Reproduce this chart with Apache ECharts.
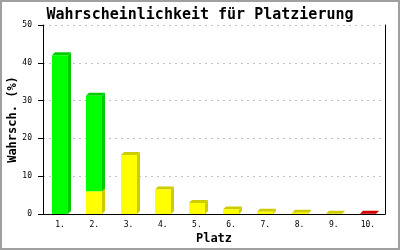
<!DOCTYPE html>
<html>
<head>
<meta charset="utf-8">
<script src="https://cdn.jsdelivr.net/npm/echarts@6/dist/echarts.min.js"></script>
<style>
html,body{margin:0;padding:0;background:#fff;}
#chart{width:400px;height:250px;}
</style>
</head>
<body>
<div id="chart"></div>
<script>
const categories = ['1.', '2.', '3.', '4.', '5.', '6.', '7.', '8.', '9.', '10.'];
const yellowValues = [0, 6.0, 15.6, 6.5, 2.9, 1.2, 0.6, 0.35, 0.05, 0];
const greenValues = [42.0, 25.3, 0, 0, 0, 0, 0, 0, 0, 0];
const redValues = [0, 0, 0, 0, 0, 0, 0, 0, 0, 0.05];
const yTicks = [0, 10, 20, 30, 40, 50];

const mono = 'DejaVu Sans Mono';

function stackItems(values, bases) {
  const out = [];
  values.forEach((v, i) => {
    if (v > 0) out.push([i, bases[i], bases[i] + v]);
  });
  return out;
}
const zeros = categories.map(() => 0);
const yellowData = stackItems(yellowValues, zeros);
const greenData = stackItems(greenValues, yellowValues);
const redData = stackItems(redValues, yellowValues.map((y, i) => y + greenValues[i]));

function makeRender(front, dark) {
  return function (params, api) {
    const i = api.value(0);
    const lo = api.coord([i, api.value(1)]);
    const hi = api.coord([i, api.value(2)]);
    const w = 16, d = 3;
    const x0 = Math.round(lo[0] - w / 2), x1 = x0 + w;
    const y0 = lo[1], y1 = hi[1];
    return {
      type: 'group',
      children: [
        { type: 'polygon', shape: { points: [[x1, y1], [x1 + d, y1 - d], [x1 + d, y0 - d], [x1, y0]] }, style: { fill: dark } },
        { type: 'polygon', shape: { points: [[x0, y1], [x0 + d, y1 - d], [x1 + d, y1 - d], [x1, y1]] }, style: { fill: dark } },
        { type: 'rect', shape: { x: x0, y: y1, width: w, height: y0 - y1 }, style: { fill: front } }
      ]
    };
  };
}

const chart = echarts.init(document.getElementById('chart'), null, { renderer: 'canvas' });
chart.setOption({
  animation: false,
  backgroundColor: '#fff',
  title: {
    text: 'Wahrscheinlichkeit für Platzierung',
    left: 'center', top: 3,
    textStyle: { fontFamily: mono, fontWeight: 'bold', fontSize: 15, color: '#000' }
  },
  graphic: [{
    type: 'rect', z: 100,
    shape: { x: 1, y: 1, width: 398, height: 248 },
    style: { fill: null, stroke: '#a0a0a0', lineWidth: 2 }
  }],
  grid: { left: 43, right: 15, top: 25, bottom: 36, containLabel: false, outerBoundsMode: 'none' },
  xAxis: {
    type: 'category', data: categories,
    axisLine: { lineStyle: { color: '#000', width: 1 } },
    axisTick: { show: false },
    axisLabel: { fontFamily: mono, fontSize: 8, color: '#000', margin: 7 },
    name: 'Platz', nameLocation: 'middle', nameGap: 19, nameMoveOverlap: false,
    nameTextStyle: { fontFamily: mono, fontWeight: 'bold', fontSize: 12, color: '#000' }
  },
  yAxis: [{
    type: 'value', min: yTicks[0], max: yTicks[yTicks.length - 1], interval: yTicks[1] - yTicks[0],
    axisLine: { show: true, lineStyle: { color: '#000', width: 1 } },
    axisTick: { show: true, length: 5, lineStyle: { color: '#000' } },
    axisLabel: { fontFamily: mono, fontSize: 8, color: '#000', margin: 11 },
    splitLine: { show: true, lineStyle: { color: '#c0c0c0', type: [2, 4] } },
    name: 'Wahrsch. (%)', nameLocation: 'middle', nameRotate: 90, nameGap: 24, nameMoveOverlap: false,
    nameTextStyle: { fontFamily: mono, fontWeight: 'bold', fontSize: 12, color: '#000' }
  }, {
    type: 'value', position: 'right', min: yTicks[0], max: yTicks[yTicks.length - 1], interval: yTicks[1] - yTicks[0],
    axisLine: { show: true, lineStyle: { color: '#000', width: 1 } },
    axisTick: { show: false }, axisLabel: { show: false }, splitLine: { show: false }
  }],
  series: [
    { type: 'custom', name: 'gelb', renderItem: makeRender('#ffff00', '#cccc00'), data: yellowData, encode: { x: 0, y: [1, 2] }, z: 2 },
    { type: 'custom', name: 'grün', renderItem: makeRender('#00ff00', '#00cc00'), data: greenData, encode: { x: 0, y: [1, 2] }, z: 3 },
    { type: 'custom', name: 'rot', renderItem: makeRender('#ff0000', '#cc0000'), data: redData, encode: { x: 0, y: [1, 2] }, z: 3 }
  ]
});
</script>
</body>
</html>
